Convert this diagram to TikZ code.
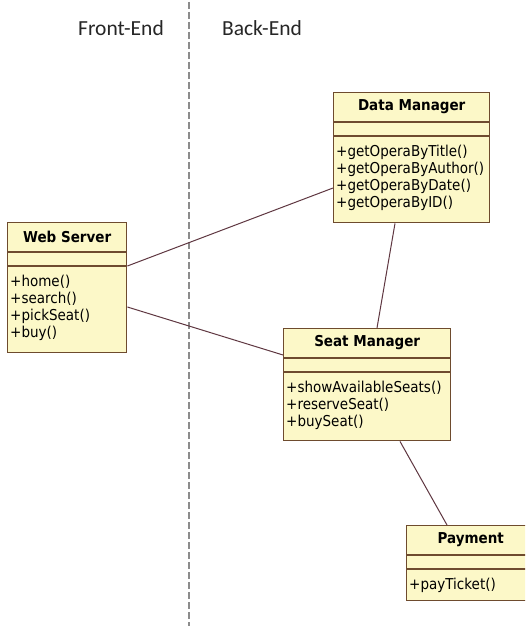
\documentclass[tikz,border=0pt]{standalone}
\usepackage{fontspec}
\setmainfont{DejaVu Sans}[FakeStretch=0.9]
\newfontfamily\labelfont{Carlito}
\usetikzlibrary{calc}
\definecolor{boxfill}{RGB}{252,248,200}
\definecolor{boxline}{RGB}{110,75,46}
\definecolor{linkcol}{RGB}{95,55,65}
\definecolor{divcol}{RGB}{140,140,140}
\tikzset{
  classbox/.style={draw=boxline, fill=boxfill, line width=1.4pt, rectangle, anchor=north west, inner sep=0pt},
  classname/.style={font=\fontsize{15}{17}\selectfont\bfseries, inner sep=0pt},
  ops/.style={font=\fontsize{15}{17}\selectfont, align=left, anchor=west, inner sep=0pt},
  compart/.style={draw=boxline, line width=1.4pt},
  link/.style={draw=linkcol, line width=1pt},
  divider/.style={draw=divcol, line width=1.3pt, dash pattern=on 7pt off 3pt},
  sidelabel/.style={font=\labelfont\fontsize{21.5}{24}\selectfont, text=black!85, inner sep=0pt}
}
\begin{document}
\begin{tikzpicture}[x=1pt,y=-1pt]
\useasboundingbox (0,0) rectangle (525,626);
\fill[white] (0,0) rectangle (525,626);
\begin{scope}
\clip (0,0) rectangle (525,626);

% tier divider and captions
\coordinate (divtop) at (189,2);
\coordinate (divbot) at (189,626);
\draw[divider] (divtop) -- (divbot);
\node[sidelabel] (fe) at (121,28) {Front-End};
\node[sidelabel] (be) at (262,28) {Back-End};

% class frames
\node[classbox, minimum width=119pt, minimum height=130pt] (ws) at (7,222) {};
\node[classbox, minimum width=156pt, minimum height=130pt] (dm) at (333,92) {};
\node[classbox, minimum width=167pt, minimum height=112pt] (sm) at (283,328) {};
\node[classbox, minimum width=128pt, minimum height=75pt] (pay) at (406,525) {};

% associations
\draw[link] ($(ws.north east)+(0,44)$) -- ($(dm.north west)+(0,96)$);
\draw[link] ($(ws.north east)+(0,85)$) -- ($(sm.north west)+(0,27)$);
\draw[link] ($(dm.south west)+(62,0)$) -- ($(sm.north west)+(94,0)$);
\draw[link] ($(sm.south west)+(117,0)$) -- ($(pay.north west)+(41,0)$);

% compartments and texts
\foreach \c in {ws,dm,sm,pay}{
  \draw[compart] ($(\c.north west)+(0,30)$) -- ($(\c.north east)+(0,30)$);
  \draw[compart] ($(\c.north west)+(0,44)$) -- ($(\c.north east)+(0,44)$);
}
\node[classname] (wsname) at ($(ws.north)+(0,15)$) {Web Server};
\node[ops] (wsops) at ($(ws.north west)+(3,85.5)$) {+home()\\+search()\\+pickSeat()\\+buy()};

\node[classname] (dmname) at ($(dm.north)+(0,15)$) {Data Manager};
\node[ops] (dmops) at ($(dm.north west)+(3,85.5)$) {+getOperaByTitle()\\+getOperaByAuthor()\\+getOperaByDate()\\+getOperaByID()};

\node[classname] (smname) at ($(sm.north)+(0,15)$) {Seat Manager};
\node[ops] (smops) at ($(sm.north west)+(3,77)$) {+showAvailableSeats()\\+reserveSeat()\\+buySeat()};

\node[classname] (payname) at ($(pay.north)+(0,15)$) {Payment};
\node[ops] (payops) at ($(pay.north west)+(3,60)$) {+payTicket()};
\end{scope}
\end{tikzpicture}
\end{document}
